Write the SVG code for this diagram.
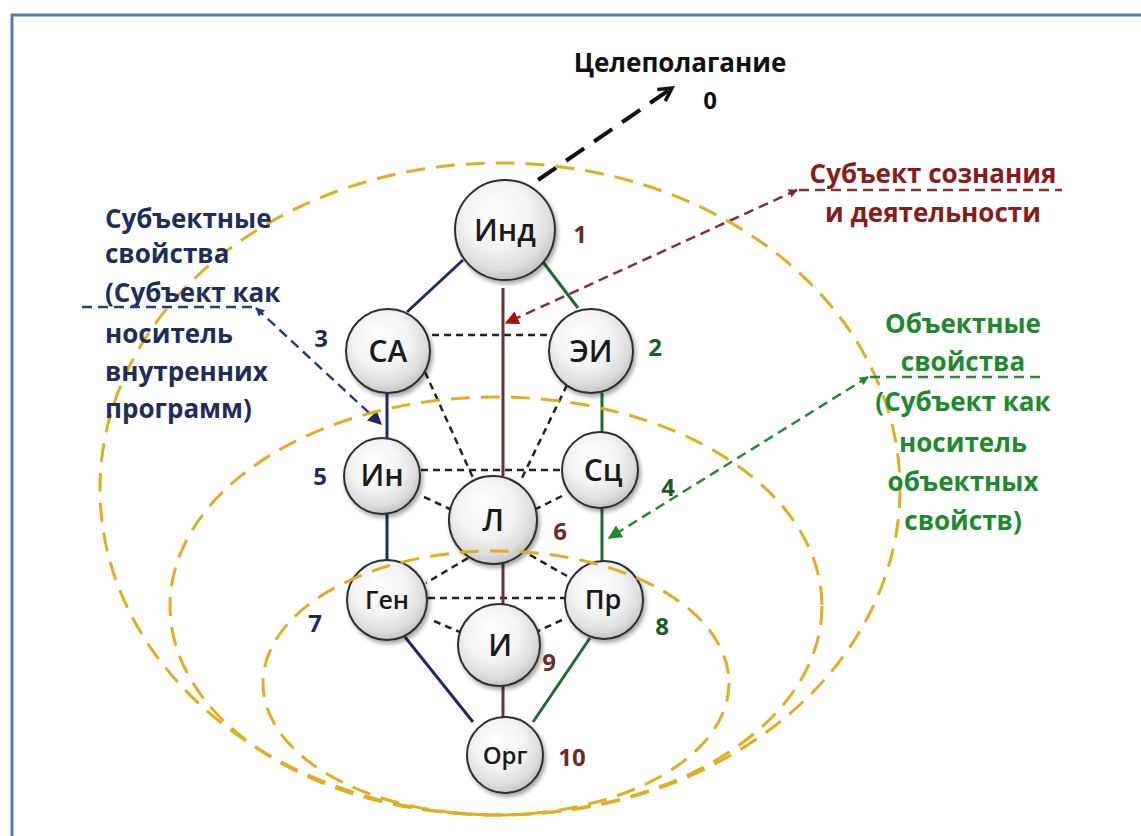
<svg xmlns="http://www.w3.org/2000/svg" width="1141" height="836" viewBox="0 0 1141 836">
<defs>
<radialGradient id="ball" cx="45%" cy="40%" r="60%" fx="38%" fy="30%">
<stop offset="0" stop-color="#FFFFFF"/>
<stop offset="0.55" stop-color="#F3F3F3"/>
<stop offset="0.85" stop-color="#DDDDDD"/>
<stop offset="1" stop-color="#C4C4C4"/>
</radialGradient>
<filter id="sh" x="-30%" y="-30%" width="160%" height="160%">
<feDropShadow dx="2" dy="3" stdDeviation="2" flood-color="#000" flood-opacity="0.35"/>
</filter>
<marker id="mBlack" viewBox="0 0 20 20" refX="17" refY="10" markerWidth="20" markerHeight="20" markerUnits="userSpaceOnUse" orient="auto">
<path d="M4,3 L17,10 L4,17" fill="none" stroke="#111" stroke-width="3.5"/>
</marker>
<marker id="mRedEnd" viewBox="0 0 10 10" refX="9" refY="5" markerWidth="14" markerHeight="14" markerUnits="userSpaceOnUse" orient="auto">
<path d="M0,0 L10,5 L0,10 z" fill="#A01010"/>
</marker>
<marker id="mRedStart" viewBox="0 0 10 10" refX="9" refY="5" markerWidth="9" markerHeight="9" markerUnits="userSpaceOnUse" orient="auto-start-reverse">
<path d="M0,0 L10,5 L0,10 z" fill="#7A2A2A"/>
</marker>
<marker id="mGreenEnd" viewBox="0 0 10 10" refX="9" refY="5" markerWidth="14" markerHeight="14" markerUnits="userSpaceOnUse" orient="auto">
<path d="M0,0 L10,5 L0,10 z" fill="#1E8A2E"/>
</marker>
<marker id="mGreenStart" viewBox="0 0 10 10" refX="9" refY="5" markerWidth="9" markerHeight="9" markerUnits="userSpaceOnUse" orient="auto-start-reverse">
<path d="M0,0 L10,5 L0,10 z" fill="#1E8A2E"/>
</marker>
<marker id="mNavyEnd" viewBox="0 0 10 10" refX="9" refY="5" markerWidth="14" markerHeight="14" markerUnits="userSpaceOnUse" orient="auto">
<path d="M0,0 L10,5 L0,10 z" fill="#1F2A66"/>
</marker>
<marker id="mNavyStart" viewBox="0 0 10 10" refX="9" refY="5" markerWidth="9" markerHeight="9" markerUnits="userSpaceOnUse" orient="auto-start-reverse">
<path d="M0,0 L10,5 L0,10 z" fill="#2A3A8A"/>
</marker>
<style>
.node circle{fill:url(#ball);stroke:#2E2E2E;stroke-width:2;filter:url(#sh)}
.node text{font-family:"Open Sans","Liberation Sans",sans-serif;font-weight:600;fill:#1A1A1A;text-anchor:middle}
.num{font-family:"Open Sans","Liberation Sans",sans-serif;font-weight:700;font-size:24px;text-anchor:middle}
.lbl{font-family:"Open Sans","Liberation Sans",sans-serif;font-weight:700;font-size:26px}
.navy{fill:#1F2D5A}
.green{fill:#1E8A2E}
.gnum{fill:#1E5A2E}
.red{fill:#8B1A1A}
.rnum{fill:#6B2B2B}
.solidNavy{stroke:#1F2A66;stroke-width:3;fill:none}
.solidGreen{stroke:#1E6B2E;stroke-width:3;fill:none}
.solidRed{stroke:#6E3030;stroke-width:3;fill:none}
.dashK{stroke:#222;stroke-width:2.5;stroke-dasharray:7 5;fill:none}
.ell{fill:none;stroke:#E0AE22;stroke-width:3;stroke-dasharray:19 11}
</style>
</defs>
<rect x="0" y="0" width="1141" height="836" fill="#FFFFFF"/>
<rect x="12" y="15" width="1150" height="840" fill="none" stroke="#5B7BA6" stroke-width="3"/>

<g id="connectors">
<line class="dashK" x1="432" y1="335" x2="548" y2="335"/>
<line class="dashK" x1="425" y1="372" x2="474" y2="480"/>
<line class="dashK" x1="567" y1="385" x2="520" y2="482"/>
<line class="dashK" x1="421" y1="470" x2="561" y2="470"/>
<line class="dashK" x1="424" y1="497" x2="452" y2="510"/>
<line class="dashK" x1="562" y1="496" x2="536" y2="509"/>
<line class="dashK" x1="468" y1="558" x2="426" y2="583"/>
<line class="dashK" x1="530" y1="555" x2="567" y2="576"/>
<line class="dashK" x1="428" y1="598" x2="565" y2="598"/>
<line class="dashK" x1="434" y1="621" x2="462" y2="633"/>
<line class="dashK" x1="562" y1="620" x2="536" y2="632"/>

<line class="solidNavy" x1="463" y1="260" x2="407" y2="312"/>
<line class="solidGreen" x1="543" y1="262" x2="578" y2="308"/>
<line class="solidNavy" x1="387" y1="393" x2="387" y2="438"/>
<line class="solidNavy" x1="387" y1="514" x2="387" y2="560"/>
<line class="solidGreen" x1="602" y1="393" x2="602" y2="432"/>
<line class="solidGreen" x1="602" y1="508" x2="602" y2="561"/>
<line class="solidNavy" x1="405" y1="637" x2="473" y2="722"/>
<line class="solidGreen" x1="590" y1="638" x2="533" y2="722"/>
<line class="solidRed" x1="503" y1="288" x2="503" y2="476"/>
<line class="solidRed" x1="503" y1="564" x2="503" y2="604"/>
<line class="solidRed" x1="503" y1="686" x2="503" y2="717"/>

<line x1="538" y1="180" x2="672" y2="88" stroke="#111" stroke-width="4" stroke-dasharray="22 12" marker-end="url(#mBlack)"/>
<line x1="797" y1="190" x2="506" y2="323" stroke="#8B2E2E" stroke-width="2.5" stroke-dasharray="10 6" marker-start="url(#mRedStart)" marker-end="url(#mRedEnd)"/>
<line x1="868" y1="377" x2="609" y2="538" stroke="#2A8A3A" stroke-width="2.5" stroke-dasharray="10 6" marker-start="url(#mGreenStart)" marker-end="url(#mGreenEnd)"/>
<line x1="256" y1="308" x2="381" y2="424" stroke="#2A3A8A" stroke-width="2.5" stroke-dasharray="10 6" marker-start="url(#mNavyStart)" marker-end="url(#mNavyEnd)"/>
</g>

<g id="node-ind" class="node"><circle cx="505" cy="230" r="50"/><text x="505" y="241" font-size="30">Инд</text></g>
<g id="node-sa" class="node"><circle cx="388" cy="351" r="42"/><text x="388" y="362" font-size="30">СА</text></g>
<g id="node-ei" class="node"><circle cx="591" cy="351" r="42"/><text x="591" y="362" font-size="30">ЭИ</text></g>
<g id="node-in" class="node"><circle cx="382" cy="476" r="38"/><text x="382" y="486" font-size="30">Ин</text></g>
<g id="node-sc" class="node"><circle cx="600" cy="470" r="38"/><text x="603" y="481" font-size="30">Сц</text></g>
<g id="node-l" class="node"><circle cx="493" cy="520" r="44"/><text x="493" y="531" font-size="30">Л</text></g>
<g id="node-gen" class="node"><circle cx="387" cy="600" r="40"/><text x="387" y="609" font-size="25">Ген</text></g>
<g id="node-pr" class="node"><circle cx="604" cy="600" r="39"/><text x="603" y="609" font-size="27">Пр</text></g>
<g id="node-i" class="node"><circle cx="499" cy="645" r="41"/><text x="500" y="656" font-size="30">И</text></g>
<g id="node-org" class="node"><circle cx="505" cy="755" r="38"/><text x="505" y="764" font-size="24">Орг</text></g>

<g id="regions">
<ellipse class="ell" cx="500" cy="489" rx="400" ry="326"/>
<ellipse class="ell" cx="496" cy="606" rx="326" ry="209"/>
<ellipse class="ell" cx="496" cy="683" rx="233" ry="132"/>
</g>

<g id="numbers">
<text class="num" x="710" y="109" fill="#111">0</text>
<text class="num rnum" x="580" y="243">1</text>
<text class="num gnum" x="655" y="356">2</text>
<text class="num navy" x="321" y="347">3</text>
<text class="num gnum" x="668" y="496">4</text>
<text class="num navy" x="320" y="485">5</text>
<text class="num rnum" x="560" y="540">6</text>
<text class="num navy" x="315" y="632">7</text>
<text class="num gnum" x="662" y="635">8</text>
<text class="num rnum" x="549" y="671">9</text>
<text class="num rnum" x="572" y="766">10</text>
</g>

<g id="labels">
<text class="lbl" x="680" y="72" text-anchor="middle" fill="#111" font-size="27">Целеполагание</text>

<text class="lbl navy" x="105" y="228">Субъектные</text>
<text class="lbl navy" x="105" y="263">свойства</text>
<text class="lbl navy" x="105" y="302">(Субъект как</text>
<text class="lbl navy" x="105" y="343">носитель</text>
<text class="lbl navy" x="105" y="381">внутренних</text>
<text class="lbl navy" x="105" y="418">программ)</text>
<line x1="82" y1="307" x2="254" y2="307" stroke="#2A3A8A" stroke-width="2.5" stroke-dasharray="10 6"/>

<text class="lbl red" x="933" y="183" text-anchor="middle">Субъект сознания</text>
<text class="lbl red" x="933" y="222" text-anchor="middle">и деятельности</text>
<line x1="799" y1="190" x2="1062" y2="190" stroke="#8B2E2E" stroke-width="2.5" stroke-dasharray="10 6"/>

<text class="lbl green" x="963" y="333" text-anchor="middle">Объектные</text>
<text class="lbl green" x="963" y="371" text-anchor="middle">свойства</text>
<text class="lbl green" x="963" y="411" text-anchor="middle">(Субъект как</text>
<text class="lbl green" x="963" y="452" text-anchor="middle">носитель</text>
<text class="lbl green" x="963" y="491" text-anchor="middle">объектных</text>
<text class="lbl green" x="963" y="530" text-anchor="middle">свойств)</text>
<line x1="870" y1="377" x2="1040" y2="377" stroke="#2A8A3A" stroke-width="2.5" stroke-dasharray="10 6"/>
</g>
</svg>
